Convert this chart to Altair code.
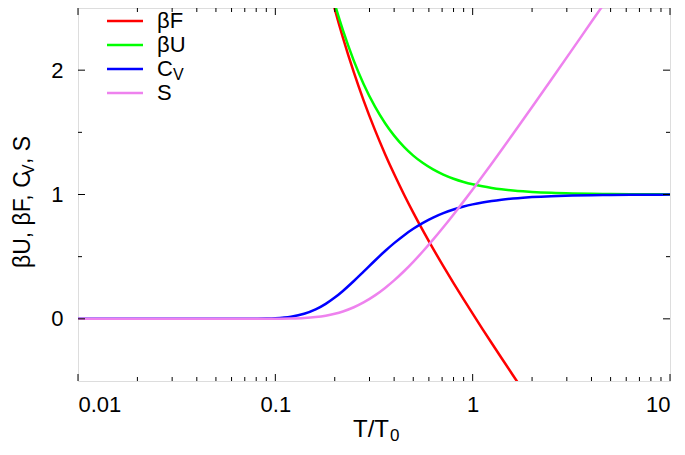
import altair as alt
import pandas as pd

T = [0.01, 0.03, 0.05, 0.07, 0.08, 0.09, 0.1, 0.12, 0.14, 0.16, 0.18, 0.2, 0.22, 0.25,
     0.28, 0.32, 0.36, 0.4, 0.45, 0.5, 0.56, 0.63, 0.71, 0.8, 0.9, 1.0, 1.12, 1.25,
     1.4, 1.6, 1.8, 2.0, 2.5, 3.2, 4.0, 5.0, 6.3, 8.0, 10.0]

C_V = [0, 0, 0, 0.0001, 0.0006, 0.0018, 0.0045, 0.0167, 0.0404, 0.0757, 0.1202, 0.1707,
       0.2241, 0.3041, 0.3797, 0.4694, 0.5455, 0.6089, 0.6732, 0.7241, 0.7718, 0.8141,
       0.8499, 0.8794, 0.9032, 0.9207, 0.9361, 0.9483, 0.9586, 0.9681, 0.9747, 0.9794,
       0.9868, 0.9919, 0.9948, 0.9967, 0.9979, 0.9987, 0.9992]

S = [0, 0, 0, 0, 0.0001, 0.0002, 0.0005, 0.0022, 0.0064, 0.0140, 0.0254, 0.0407, 0.0594,
     0.0931, 0.1318, 0.1885, 0.2484, 0.3092, 0.3848, 0.4585, 0.5433, 0.6367, 0.7363,
     0.8396, 0.9446, 1.0407, 1.1459, 1.2494, 1.3575, 1.4861, 1.6005, 1.7035, 1.9229,
     2.1672, 2.3889, 2.6094]
T_S = T[:36]

beta_U = [3.1371, 2.7993, 2.5339, 2.3215, 2.0746, 1.8890, 1.7061, 1.5731, 1.4736, 1.3812,
          1.3130, 1.2526, 1.2016, 1.1601, 1.1269, 1.1008, 1.0820, 1.0656, 1.0528, 1.0422,
          1.0323, 1.0256, 1.0208, 1.0133, 1.0081, 1.0052, 1.0033, 1.0021, 1.0013, 1.0008]
T_U = T[9:]

beta_F = [3.1231, 2.7739, 2.4932, 2.2621, 1.9815, 1.7572, 1.5176, 1.3247, 1.1644, 0.9964,
          0.8546, 0.7093, 0.5649, 0.4238, 0.2873, 0.1563, 0.0413, -0.0803, -0.1966, -0.3153,
          -0.4538, -0.5749]
T_F = T[9:31]

series_labels = ["βF", "βU", "C", "S"]
series_colors = ["#ff0000", "#00ff00", "#0000ff", "#ee82ee"]

x_major_ticks = [0.01, 0.1, 1, 10]
x_minor_ticks = [0.02, 0.03, 0.04, 0.05, 0.06, 0.07, 0.08, 0.09,
                 0.2, 0.3, 0.4, 0.5, 0.6, 0.7, 0.8, 0.9,
                 2, 3, 4, 5, 6, 7, 8, 9]
y_major_ticks = [0, 1, 2]
y_minor_ticks = [0.5, 1.5]

FONT = "Liberation Sans"
W, H = 592, 373

xs = alt.Scale(type="log", domain=[0.01, 10], nice=False)
ys = alt.Scale(domain=[-0.5, 2.5], nice=False, zero=False)
xaxis = alt.Axis(values=x_major_ticks, format="~g", ticks=False, domain=False, grid=False,
                 labelFontSize=22, labelPadding=13, title=None, labelColor="black",
                 labelFont=FONT)
yaxis = alt.Axis(values=y_major_ticks, format="d", ticks=False, domain=False, grid=False,
                 labelFontSize=22, labelPadding=15, title=None, labelColor="black",
                 labelFont=FONT)

series_data = [
    (T_F, beta_F), (T_U, beta_U), (T, C_V), (T_S, S)
]

layers = []
for (tt, vv), col in zip(series_data, series_colors):
    d = pd.DataFrame({"T": tt, "value": vv})
    layers.append(
        alt.Chart(d).mark_line(clip=True, strokeWidth=2.5, color=col, interpolate="monotone").encode(
            x=alt.X("T:Q", scale=xs, axis=xaxis),
            y=alt.Y("value:Q", scale=ys, axis=yaxis),
        )
    )

# inside ticks, mirrored on all four sides
def xticks(vals, length):
    d = pd.DataFrame({"t": vals})
    base = alt.Chart(d).mark_rule(color="black", strokeWidth=1)
    return [
        base.encode(x=alt.X("t:Q", scale=xs, axis=xaxis), y=alt.value(H), y2=alt.value(H - length)),
        base.encode(x=alt.X("t:Q", scale=xs, axis=xaxis), y=alt.value(0), y2=alt.value(length)),
    ]

def yticks(vals, length):
    d = pd.DataFrame({"t": vals})
    base = alt.Chart(d).mark_rule(color="black", strokeWidth=1)
    return [
        base.encode(y=alt.Y("t:Q", scale=ys, axis=yaxis), x=alt.value(0), x2=alt.value(length)),
        base.encode(y=alt.Y("t:Q", scale=ys, axis=yaxis), x=alt.value(W), x2=alt.value(W - length)),
    ]

layers += xticks(x_major_ticks, 7) + xticks(x_minor_ticks, 4)
layers += yticks(y_major_ticks, 7) + yticks(y_minor_ticks, 4)

one = alt.Data(values=[{}])

def txt(s, x, y, size, align="left", angle=0):
    kw = dict(align=align, baseline="middle", fontSize=size, font=FONT, color="black", text=s)
    if angle:
        kw["angle"] = angle
    return alt.Chart(one).mark_text(**kw).encode(x=alt.value(x), y=alt.value(y))

# legend (top-left, inside)
for i, (lab, col) in enumerate(zip(series_labels, series_colors)):
    yy = 13 + 24 * i
    layers.append(alt.Chart(one).mark_rule(color=col, strokeWidth=2.5).encode(
        x=alt.value(29), x2=alt.value(65), y=alt.value(yy)))
    layers.append(txt(lab, 79, yy, 22))
    if lab == "C":
        layers.append(txt("V", 95, yy + 6, 16))

# x title  T/T0
layers.append(txt("T/T", 311, 422, 24, align="right"))
layers.append(txt("0", 312, 428, 17))

# y title  βU, βF, CV, S (rotated)
y0 = 260
layers.append(txt("βU, βF, C", -55, y0, 23, angle=270))
layers.append(txt("V", -49, y0 - 93, 16, angle=270))
layers.append(txt(", S", -55, y0 - 93 - 11, 23, angle=270))

chart = alt.layer(*layers).properties(
    width=W, height=H,
    autosize=alt.AutoSizeParams(type="none"),
    padding={"left": 70, "top": 0, "right": 7, "bottom": 64},
).configure_view(stroke="black", strokeWidth=1.5).configure(font=FONT)

chart.save("out.html", embed_options={"renderer": "svg", "actions": False})
